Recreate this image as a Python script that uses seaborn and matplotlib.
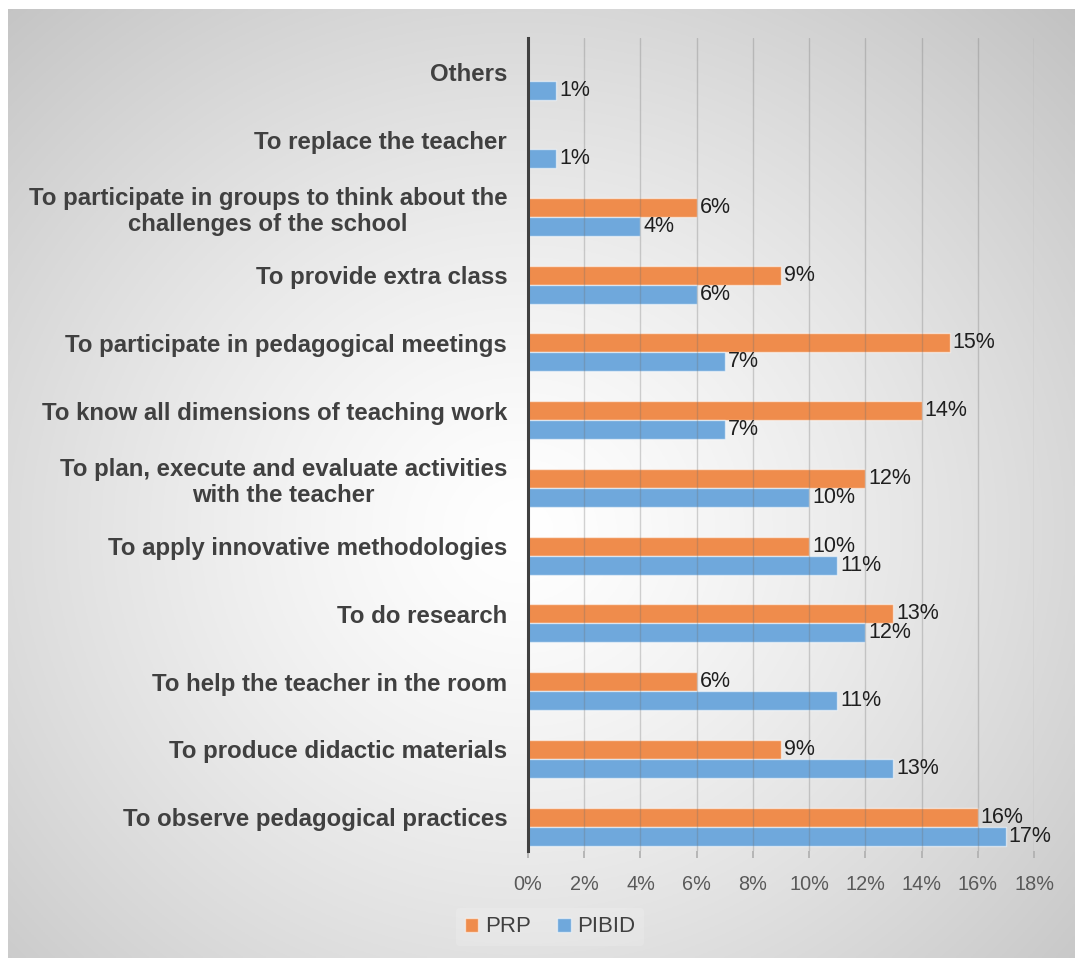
import numpy as np
import pandas as pd
import seaborn as sns
import matplotlib.pyplot as plt
from matplotlib.patches import Patch
from matplotlib.ticker import PercentFormatter

# Datos
categorias = [
    "Others",
    "To replace the teacher",
    "To participate in groups to think about the\nchallenges of the school",
    "To provide extra class",
    "To participate in pedagogical meetings",
    "To know all dimensions of teaching work",
    "To plan, execute and evaluate activities\nwith the teacher",
    "To apply innovative methodologies",
    "To do research",
    "To help the teacher in the room",
    "To produce didactic materials",
    "To observe pedagogical practices",
]
prp = [0, 0, 6, 9, 15, 14, 12, 10, 13, 6, 9, 16]
pibid = [1, 1, 4, 6, 7, 7, 10, 11, 12, 11, 13, 17]
series = ["PRP", "PIBID"]
colores = {"pad": "#ffffff", "PRP": "#EF8C4C", "PIBID": "#6FA8DC"}

# Tabla larga (serie "pad" vacia para alinear como en Excel)
df = pd.DataFrame({
    "categoria": categorias * 3,
    "valor": [0] * len(categorias) + [v / 100 for v in prp] + [v / 100 for v in pibid],
    "serie": ["pad"] * len(categorias) + ["PRP"] * len(categorias) + ["PIBID"] * len(categorias),
})

sns.set_theme(style="white")
plt.rcParams["font.family"] = ["Liberation Sans", "DejaVu Sans"]

fig = plt.figure(figsize=(10.75, 9.58), dpi=100, facecolor="white")

# Fondo degradado radial
bg = fig.add_axes([8 / 1075, 0, 1 - 8 / 1075, 1 - 9 / 958], zorder=-5)
yy, xx = np.mgrid[0:1:400j, 0:1:450j]
r = np.sqrt(((xx - 0.48) / 1.0) ** 2 + ((yy - 0.55) / 1.05) ** 2)
r = r / r.max()
val = 1.0 - 0.24 * np.clip(r, 0, 1) ** 1.3
bg.imshow(np.dstack([val, val, val]), aspect="auto", extent=[0, 1, 0, 1], origin="upper")
bg.axis("off")

ax = fig.add_axes([528 / 1075, 1 - 851 / 958, (1034 - 528) / 1075, (851 - 38) / 958])
ax.set_facecolor("none")

sns.barplot(data=df, x="valor", y="categoria", hue="serie",
            hue_order=["pad", "PRP", "PIBID"], palette=colores, orient="h",
            width=0.84, legend=False, ax=ax, saturation=1,
            edgecolor=(1, 1, 1, 0.55), linewidth=1)

# quitar la serie vacia
for p in ax.containers[0]:
    p.set_visible(False)

for cont, vals in zip(ax.containers[1:], [prp, pibid]):
    etiquetas = [f"{v}%" if v > 0 else "" for v in vals]
    ax.bar_label(cont, labels=etiquetas, padding=2, fontsize=15.5, color="#1f1f1f")

ax.set_xlim(0, 0.18)
ax.set_xticks(np.arange(0, 0.181, 0.02))
ax.xaxis.set_major_formatter(PercentFormatter(1.0, decimals=0))
ax.xaxis.grid(True, color="#707070", alpha=0.3, linewidth=1)
ax.set_axisbelow(False)
ax.tick_params(axis="x", bottom=True, length=5, color="#b0b0b0", labelsize=14.3,
               labelcolor="#595959", pad=12)
ax.tick_params(axis="y", left=False, labelsize=17.3, labelcolor="#404040", pad=9)
for lab in ax.get_yticklabels():
    lab.set_fontweight("bold")
    lab.set_multialignment("center")
ax.set_xlabel("")
ax.set_ylabel("")
for s in ["top", "right", "bottom"]:
    ax.spines[s].set_visible(False)
ax.spines["left"].set_color("#404040")
ax.spines["left"].set_linewidth(2.2)
ax.spines["left"].set_zorder(3)

handles = [Patch(facecolor=colores[s], edgecolor=(1, 1, 1, 0.55)) for s in series]
leg = fig.legend(handles, series, loc="center", bbox_to_anchor=(550 / 1075, 1 - 927 / 958),
                 ncol=2, fontsize=16, handlelength=0.6, handleheight=0.6,
                 handletextpad=0.3, columnspacing=1.2, frameon=True,
                 framealpha=0.15, facecolor="white", edgecolor="none")
for t in leg.get_texts():
    t.set_color("#404040")

fig.savefig("out.png", dpi=100, facecolor="white")
